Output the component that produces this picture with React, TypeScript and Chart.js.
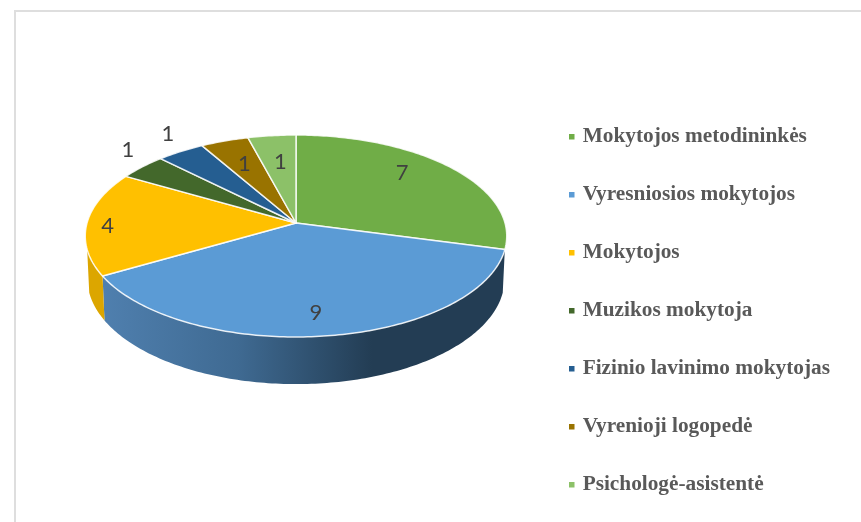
import React, { useEffect, useRef } from "react";
import { Chart, registerables } from "chart.js";

Chart.register(...registerables);

const categories = [
  "Mokytojos metodininkės",
  "Vyresniosios mokytojos",
  "Mokytojos",
  "Muzikos mokytoja",
  "Fizinio lavinimo mokytojas",
  "Vyrenioji logopedė",
  "Psichologė-asistentė",
];
const values = [7, 9, 4, 1, 1, 1, 1];
const colors = ["#70ad47", "#5b9bd5", "#ffc000", "#43682b", "#255e91", "#997300", "#8cc168"];
const labelNudges = [
  [-4, -10],
  [-1, 14],
  [-42, 3],
  [-58, -33],
  [-45, -38],
  [0, 0],
  [2, 2],
];

// projection of the flat pie onto a tilted disc
const SQUASH = 99.3 / 209;
const PERSPECTIVE = -0.1287;
const WALL_START = (105 * Math.PI) / 180 - Math.PI / 2;
const WALL_END = (255 * Math.PI) / 180 - Math.PI / 2;

function wallPaint(ctx: CanvasRenderingContext2D, index: number) {
  if (index === 1) {
    const g = ctx.createLinearGradient(104, 0, 372, 0);
    g.addColorStop(0, "#4f7fae");
    g.addColorStop(0.5, "#3f6a92");
    g.addColorStop(1, "#233d54");
    return g;
  }
  return "#dca600";
}

const tiltedPie = {
  id: "tiltedPie",
  afterLayout(chart: any) {
    const legend = chart.legend;
    const pad = legend.options.labels.padding;
    legend.left = 571.5 - pad;
    legend.right = legend.left + legend.width;
    legend.top = 126 - pad;
    legend.bottom = legend.top + legend.height;
  },
  beforeDatasetDraw(chart: any) {
    const ctx: CanvasRenderingContext2D = chart.ctx;
    const arcs = chart.getDatasetMeta(0).data;
    const cx = arcs[0].x;
    const cy = arcs[0].y;
    const r = arcs[0].outerRadius;
    const project = (a: number, f = 1) => {
      const u = Math.cos(a) * f;
      const v = Math.sin(a) * f;
      const w = 1 + PERSPECTIVE * v;
      return [cx + (r * u) / w, cy + (r * SQUASH * v) / w];
    };
    const lower = (p: number[]) => [cx + (p[0] - cx) * 0.99, p[1] + 42 + (p[1] - cy) * 0.045];
    const sampled = (a0: number, a1: number) => {
      const n = Math.max(2, Math.ceil((a1 - a0) * 60));
      const pts: number[][] = [];
      for (let i = 0; i <= n; i++) pts.push(project(a0 + ((a1 - a0) * i) / n));
      return pts;
    };
    ctx.save();
    arcs.forEach((arc: any, i: number) => {
      const a0 = Math.max(arc.startAngle, WALL_START);
      const a1 = Math.min(arc.endAngle, WALL_END);
      if (a1 <= a0) return;
      const top = sampled(a0, a1);
      const bottom = top.map(lower).reverse();
      ctx.beginPath();
      [...top, ...bottom].forEach((p, j) => (j ? ctx.lineTo(p[0], p[1]) : ctx.moveTo(p[0], p[1])));
      ctx.closePath();
      ctx.fillStyle = wallPaint(ctx, i);
      ctx.fill();
    });
    arcs.forEach((arc: any, i: number) => {
      ctx.beginPath();
      ctx.moveTo(cx, cy);
      sampled(arc.startAngle, arc.endAngle).forEach((p) => ctx.lineTo(p[0], p[1]));
      ctx.closePath();
      ctx.fillStyle = colors[i];
      ctx.fill();
      ctx.strokeStyle = "rgba(255,255,255,0.85)";
      ctx.lineWidth = 1.5;
      ctx.lineJoin = "round";
      ctx.stroke();
    });
    ctx.fillStyle = "#404040";
    ctx.font = "22px Lato";
    ctx.textAlign = "center";
    ctx.textBaseline = "middle";
    arcs.forEach((arc: any, i: number) => {
      const p = project((arc.startAngle + arc.endAngle) / 2, 0.7);
      ctx.fillText(String(values[i]), p[0] + labelNudges[i][0], p[1] + labelNudges[i][1]);
    });
    ctx.restore();
    return false;
  },
};

export default function App() {
  const ref = useRef<HTMLCanvasElement>(null);
  useEffect(() => {
    const chart = new Chart(ref.current!, {
      type: "pie",
      data: {
        labels: categories,
        datasets: [{ data: values, backgroundColor: colors, borderColor: colors, borderWidth: 5 }],
      },
      options: {
        responsive: false,
        animation: false,
        layout: { padding: { left: 84.5, right: 353.5, top: 0, bottom: 76 } },
        plugins: {
          tooltip: { enabled: false },
          legend: {
            position: "chartArea",
            align: "start",
            labels: {
              boxWidth: 0.5,
              boxHeight: 0.5,
              padding: 36.7,
              color: "#595959",
              font: { family: "Liberation Serif", weight: "bold", size: 21.3 },
            },
          },
        },
      },
      plugins: [tiltedPie],
    } as any);
    return () => chart.destroy();
  }, []);
  return (
    <div style={{ position: "fixed", left: 0, top: 0, width: 861, height: 522, background: "#fff", overflow: "hidden" }}>
      <div style={{ position: "absolute", left: 14, top: 10, width: 900, height: 600, border: "2px solid #dedede", boxSizing: "border-box" }} />
      <canvas ref={ref} width={861} height={522} style={{ position: "absolute", left: 0, top: 0, display: "block" }} />
    </div>
  );
}
